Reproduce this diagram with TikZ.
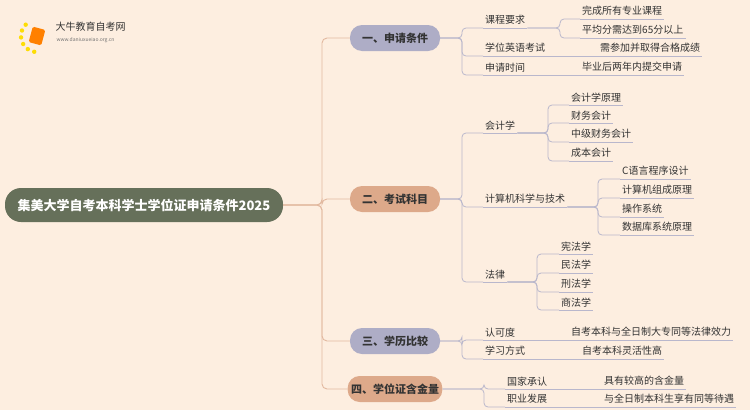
\documentclass[tikz,border=0pt]{standalone}
\usepackage{fontspec}
\setmainfont{Noto Sans CJK SC}
\usetikzlibrary{positioning}
\definecolor{bgpeach}{HTML}{FDEEE0}
\definecolor{rootcol}{HTML}{66705A}
\definecolor{secpurple}{HTML}{AEADC6}
\definecolor{sectan}{HTML}{DDA98A}
\definecolor{linetan}{HTML}{E2B9A0}
\definecolor{linegray}{HTML}{B9B7CC}
\tikzset{
  rootbox/.style={draw=none, fill=rootcol, rounded corners=16pt, minimum width=278pt,
    minimum height=34pt, text=white, font=\fontsize{13}{13}\selectfont\bfseries},
  secbox/.style={draw=none, rounded corners=12pt, minimum width=90pt, minimum height=26pt,
    text=black!80, font=\fontsize{11}{11}\selectfont\bfseries},
  leaf/.style={anchor=south west, inner xsep=2pt, inner ysep=3pt, text=black!80,
    font=\fontsize{10}{10}\selectfont},
  tanline/.style={draw=linetan, line width=0.9pt, rounded corners=5pt},
  grayline/.style={draw=linegray, line width=0.8pt, rounded corners=4pt}
}
\newcommand{\leafnode}[4]{% name, x, y, text
  \node[leaf] (#1) at (#2,#3+9) {#4};
  \draw[grayline] (#1.south west) -- (#1.south east);}
\begin{document}
\begin{tikzpicture}[x=1pt, y=-1pt]
  \fill[bgpeach] (0,0) rectangle (750,410);
  \useasboundingbox (0,0) rectangle (750,410);

  % logo
  \foreach \a in {100,125,...,225}
    \fill[yellow!80!orange] (37,36) ++(\a:16) circle (2.2);
  \node[fill=orange, rounded corners=1.5pt, minimum width=13pt, minimum height=16pt, rotate=-15] (logo) at (37,36) {};
  \node[anchor=west, font=\fontsize{10}{10}\selectfont, text=black!80] (brand) at (52,27) {大牛教育自考网};
  \node[anchor=west, font=\fontsize{5}{5}\selectfont, text=black!55] (url) at (53,40) {www.daniuxueiao.org.cn};

  % root and sections
  \node[rootbox] (root) at (144,205) {集美大学自考本科学士学位证申请条件2025};
  \node[secbox, fill=secpurple] (s1) at (395,38) {一、申请条件};
  \node[secbox, fill=sectan] (s2) at (395,199) {二、考试科目};
  \node[secbox, fill=secpurple] (s3) at (395,341) {三、学历比较};
  \node[secbox, fill=sectan] (s4) at (395,389) {四、学位证含金量};
  \foreach \s in {s1,s2,s3,s4}
    \draw[tanline] (root.east) -- (322,205) |- (\s.west);

  % section 1
  \leafnode{kc}{483}{19}{课程要求}
  \leafnode{yy}{483}{47}{学位英语考试}
  \leafnode{sj}{483}{66}{申请时间}
  \leafnode{kc1}{580}{10}{完成所有专业课程}
  \leafnode{kc2}{580}{29}{平均分需达到65分以上}
  \leafnode{yy1}{598}{47}{需参加并取得合格成绩}
  \leafnode{sj1}{580}{66}{毕业后两年内提交申请}
  % section 2
  \leafnode{kj}{483}{124}{会计学}
  \leafnode{jsj}{483}{198}{计算机科学与技术}
  \leafnode{fl}{483}{273}{法律}
  \leafnode{kj1}{569}{96}{会计学原理}
  \leafnode{kj2}{569}{114}{财务会计}
  \leafnode{kj3}{569}{133}{中级财务会计}
  \leafnode{kj4}{569}{152}{成本会计}
  \leafnode{jsj1}{620}{170}{C语言程序设计}
  \leafnode{jsj2}{620}{189}{计算机组成原理}
  \leafnode{jsj3}{620}{208}{操作系统}
  \leafnode{jsj4}{620}{226}{数据库系统原理}
  \leafnode{fl1}{559}{245}{宪法学}
  \leafnode{fl2}{559}{264}{民法学}
  \leafnode{fl3}{559}{283}{刑法学}
  \leafnode{fl4}{559}{301}{商法学}
  % section 3
  \leafnode{rk}{483}{331}{认可度}
  \leafnode{xx}{483}{350}{学习方式}
  \leafnode{rk1}{569}{331}{自考本科与全日制大专同等法律效力}
  \leafnode{xx1}{580}{350}{自考本科灵活性高}
  % section 4
  \leafnode{gj}{505}{380}{国家承认}
  \leafnode{zy}{505}{398}{职业发展}
  \leafnode{gj1}{602}{380}{具有较高的含金量}
  \leafnode{zy1}{602}{398}{与全日制本科生享有同等待遇}

  % connectors
  \foreach \s/\c in {s1/kc,s1/yy,s1/sj,s2/kj,s2/jsj,s2/fl,s3/rk,s3/xx}
    \draw[grayline] (\s.east) -- (462,0 |- \s.east) |- (\c.south west);
  \foreach \c in {gj,zy}
    \draw[grayline] (s4.east) -- (484,0 |- s4.east) |- (\c.south west);
  \foreach \p/\c/\m in {kc/kc1/560, kc/kc2/560, yy/yy1/0, sj/sj1/0,
      kj/kj1/548, kj/kj2/548, kj/kj3/548, kj/kj4/548,
      jsj/jsj1/598, jsj/jsj2/598, jsj/jsj3/598, jsj/jsj4/598,
      fl/fl1/537, fl/fl2/537, fl/fl3/537, fl/fl4/537,
      rk/rk1/0, xx/xx1/0, gj/gj1/0, zy/zy1/0}
  {
    \ifnum\m=0
      \draw[grayline] (\p.south east) -- (\c.south west);
    \else
      \draw[grayline] (\p.south east) -- (\m,0 |- \p.south east) |- (\c.south west);
    \fi
  }
\end{tikzpicture}
\end{document}
